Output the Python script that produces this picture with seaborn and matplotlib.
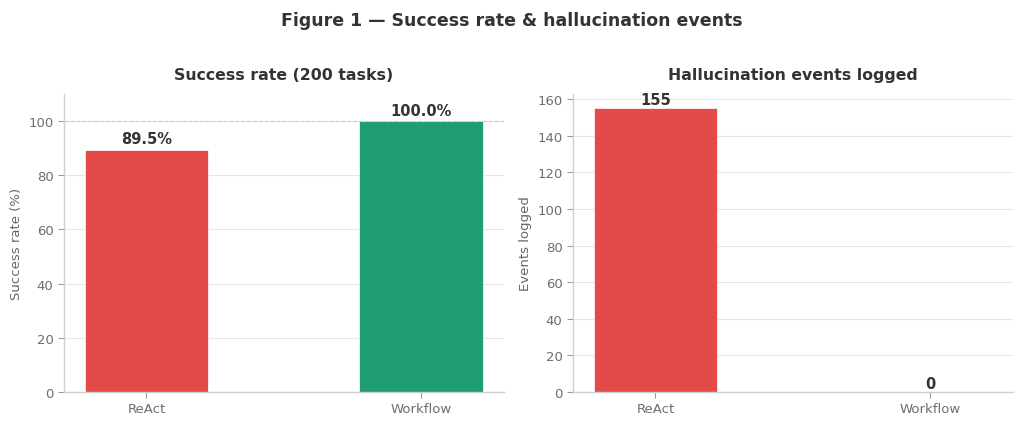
import numpy as np
import matplotlib
matplotlib.use('Agg')
import matplotlib.pyplot as plt
import seaborn as sns

# ── Data ──
agents = ['ReAct', 'Workflow']
success_rate = [89.5, 100.0]
halluc_events = [155, 0]
bar_colors = ['#E34A4A', '#1F9E74']

sns.set_theme(style='whitegrid')
plt.rcParams['font.family'] = ['DejaVu Sans']
plt.rcParams['text.color'] = '#333333'
plt.rcParams['axes.labelcolor'] = '#666666'
plt.rcParams['xtick.color'] = '#6e6e6e'
plt.rcParams['ytick.color'] = '#6e6e6e'

fig = plt.figure(figsize=(10.24, 4.27), dpi=100)
ax1 = fig.add_axes([0.0625, 0.0796, 0.4295, 0.698])
ax2 = fig.add_axes([0.5596, 0.0796, 0.4295, 0.698])

fig.suptitle('Figure 1 — Success rate & hallucination events',
             fontsize=12.5, fontweight='bold', color='#333333', y=0.972)


def style_axis(ax):
    ax.grid(axis='y', color='#e6e6e2', linewidth=0.8)
    ax.grid(axis='x', visible=False)
    ax.set_axisbelow(True)
    for side in ['top', 'right']:
        ax.spines[side].set_visible(False)
    for side in ['left', 'bottom']:
        ax.spines[side].set_color('#d0d0cc')
        ax.spines[side].set_linewidth(1.0)
    ax.tick_params(axis='both', which='both', length=4, width=0.8,
                   color='#999999', labelsize=9.5, bottom=True, left=True)
    ax.set_xlabel('')


# ── Success rate ──
sns.barplot(x=agents, y=success_rate, hue=agents, palette=bar_colors,
            width=0.45, ax=ax1, legend=False, saturation=1, linewidth=0.5)
ax1.set_xlim(-0.3, 1.3)
ax1.set_ylim(0, 110)
ax1.axhline(100, color='#cccccc', linestyle='--', linewidth=0.8, zorder=1)
style_axis(ax1)
ax1.set_ylabel('Success rate (%)', fontsize=9.5)
ax1.set_title('Success rate (200 tasks)', fontsize=11.3, fontweight='bold',
              color='#333333', pad=11)
for i, v in enumerate(success_rate):
    ax1.text(i, v + 1.2, f'{v:.1f}%', ha='center', va='bottom',
             fontsize=10.5, fontweight='bold', color='#333333')

# ── Hallucination events ──
sns.barplot(x=agents, y=halluc_events, hue=agents, palette=bar_colors,
            width=0.45, ax=ax2, legend=False, saturation=1, linewidth=0.5)
ax2.set_xlim(-0.3, 1.3)
ax2.set_ylim(0, max(halluc_events) * 1.05)
style_axis(ax2)
ax2.set_ylabel('Events logged', fontsize=9.5)
ax2.set_title('Hallucination events logged', fontsize=11.3, fontweight='bold',
              color='#333333', pad=11)
for i, v in enumerate(halluc_events):
    ax2.text(i, v + 0.6, f'{v}', ha='center', va='bottom',
             fontsize=10.5, fontweight='bold', color='#333333')

fig.savefig('out.png', dpi=100)
